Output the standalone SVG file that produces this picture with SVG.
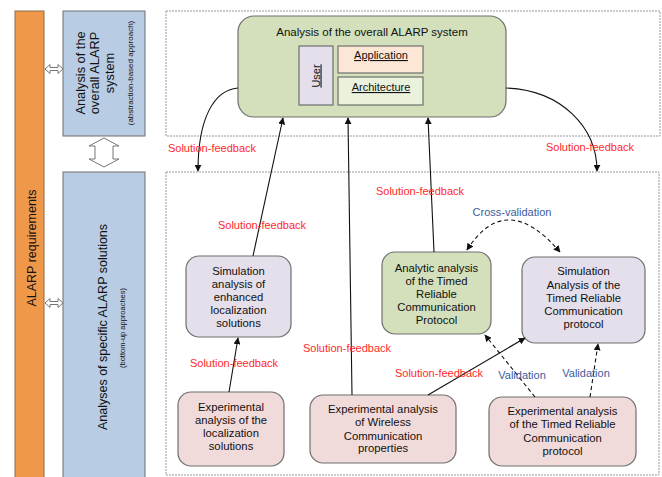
<svg xmlns="http://www.w3.org/2000/svg" width="662" height="477" viewBox="0 0 662 477">
<style>
text{font-family:"Liberation Sans",Arial,sans-serif;fill:#111}
.n{font-size:11.3px;text-anchor:middle}
.red{font-size:11px;fill:#ff2a2a;text-anchor:middle}
.blue{font-size:11px;fill:#3b5c9c;text-anchor:middle}
.frame{fill:#fff;stroke:#9a9a9a;stroke-width:1;stroke-dasharray:2 1}
.box{stroke:#6f6f6f;stroke-width:1.2}
.ln{fill:none;stroke:#111;stroke-width:1.1}
.dash{fill:none;stroke:#111;stroke-width:1.1;stroke-dasharray:4 3}
.hollow{fill:#fff;stroke:#777;stroke-width:1}
</style>
<defs>
<marker id="ah" viewBox="0 0 10 10" refX="9" refY="5" markerWidth="7" markerHeight="7" markerUnits="userSpaceOnUse" orient="auto-start-reverse">
<path d="M0,0 L10,5 L0,10 z" fill="#111"/>
</marker>
</defs>
<rect width="662" height="477" fill="#fff"/>
<g id="frames">
<rect class="frame" x="166" y="11" width="494" height="125"/>
<rect class="frame" x="166" y="172" width="493" height="303"/>
</g>
<g id="alarp-requirements">
<rect x="15" y="11" width="29" height="470" fill="#f0984a" stroke="#8a6a4a" stroke-width="1"/>
<text transform="translate(35.5,248) rotate(-90)" font-size="12.5" text-anchor="middle">ALARP requirements</text>
</g>
<g id="overall-approach">
<rect x="63" y="11" width="82" height="125" fill="#b8cce4" stroke="#6f6f6f" stroke-width="1"/>
<text transform="translate(84.5,73) rotate(-90)" font-size="12.8" text-anchor="middle">Analysis of the</text>
<text transform="translate(99,73) rotate(-90)" font-size="12.8" text-anchor="middle">overall ALARP</text>
<text transform="translate(113.5,73) rotate(-90)" font-size="12.8" text-anchor="middle">system</text>
<text transform="translate(133,73) rotate(-90)" font-size="8" text-anchor="middle">(abstraction-based approach)</text>
</g>
<g id="specific-approach">
<rect x="63" y="172" width="82" height="310" fill="#b8cce4" stroke="#6f6f6f" stroke-width="1"/>
<text transform="translate(106.5,327) rotate(-90)" font-size="12.5" text-anchor="middle">Analyses of specific  ALARP  solutions</text>
<text transform="translate(125,328) rotate(-90)" font-size="7.5" text-anchor="middle">(bottom-up approaches)</text>
</g>
<g id="side-arrows">
<path class="hollow" d="M45,69 L50,64.5 L50,67.5 L58,67.5 L58,64.5 L63,69 L58,73.5 L58,70.5 L50,70.5 L50,73.5 Z"/>
<path class="hollow" d="M45,303 L50,298.5 L50,301.5 L58,301.5 L58,298.5 L63,303 L58,307.5 L58,304.5 L50,304.5 L50,307.5 Z"/>
<path class="hollow" d="M104,138 L119,146 L113,146 L113,159 L119,159 L104,167 L89,159 L95,159 L95,146 L89,146 Z"/>
</g>
<g id="overall-system">
<rect class="box" x="238" y="16" width="268" height="101" rx="16" fill="#d3e0bb"/>
<text x="372" y="36" font-size="11.5" text-anchor="middle">Analysis of the overall ALARP  system</text>
<rect class="box" x="299" y="46" width="34" height="59" fill="#e4dfeb"/>
<text transform="translate(319.5,76) rotate(-90)" font-size="11" text-anchor="middle" text-decoration="underline">User</text>
<rect class="box" x="338" y="46" width="85" height="27" fill="#fce6d6"/>
<text x="381" y="59" font-size="11" text-anchor="middle" text-decoration="underline">Application</text>
<rect class="box" x="338" y="77" width="85" height="28" fill="#eaf1dc"/>
<text x="381" y="91" font-size="11" text-anchor="middle" text-decoration="underline">Architecture</text>
</g>
<g id="sim-localization">
<rect class="box" x="186" y="256" width="105" height="81" rx="13" fill="#e4dfeb"/>
<text class="n" x="238.5" y="275">Simulation</text>
<text class="n" x="238.5" y="288">analysis of</text>
<text class="n" x="238.5" y="301">enhanced</text>
<text class="n" x="238.5" y="314">localization</text>
<text class="n" x="238.5" y="327">solutions</text>
</g>
<g id="analytic-trcp">
<rect class="box" x="382" y="252" width="109" height="82" rx="13" fill="#d3e0bb"/>
<text class="n" x="436.5" y="272">Analytic analysis</text>
<text class="n" x="436.5" y="285">of the Timed</text>
<text class="n" x="436.5" y="298">Reliable</text>
<text class="n" x="436.5" y="311">Communication</text>
<text class="n" x="436.5" y="324">Protocol</text>
</g>
<g id="sim-trcp">
<rect class="box" x="522" y="257" width="123" height="86" rx="13" fill="#e4dfeb"/>
<text class="n" x="583.5" y="275">Simulation</text>
<text class="n" x="583.5" y="288.5">Analysis of the</text>
<text class="n" x="583.5" y="302">Timed Reliable</text>
<text class="n" x="583.5" y="315">Communication</text>
<text class="n" x="583.5" y="328">protocol</text>
</g>
<g id="exp-localization">
<rect class="box" x="178" y="392" width="106" height="74" rx="13" fill="#f1dbda"/>
<text class="n" x="231" y="411">Experimental</text>
<text class="n" x="231" y="424">analysis of the</text>
<text class="n" x="231" y="437">localization</text>
<text class="n" x="231" y="450">solutions</text>
</g>
<g id="exp-wireless">
<rect class="box" x="310" y="395" width="146" height="68" rx="13" fill="#f1dbda"/>
<text class="n" x="383" y="413">Experimental analysis</text>
<text class="n" x="383" y="426">of Wireless</text>
<text class="n" x="383" y="439.5">Communication</text>
<text class="n" x="383" y="452">properties</text>
</g>
<g id="exp-trcp">
<rect class="box" x="489" y="397" width="147" height="69" rx="13" fill="#f1dbda"/>
<text class="n" x="562.5" y="415">Experimental analysis</text>
<text class="n" x="562.5" y="428">of the Timed Reliable</text>
<text class="n" x="562.5" y="442">Communication</text>
<text class="n" x="562.5" y="455">protocol</text>
</g>
<g id="connectors">
<path class="ln" d="M238,88 C214,90 198,118 198,171" marker-end="url(#ah)"/>
<path class="ln" d="M506,88 C562,90 597,128 597,171" marker-end="url(#ah)"/>
<path class="ln" d="M253,256 L283,118" marker-end="url(#ah)"/>
<path class="ln" d="M352,395 L348,118" marker-end="url(#ah)"/>
<path class="ln" d="M434,252 L428,118" marker-end="url(#ah)"/>
<path class="ln" d="M229,392 L238,338" marker-end="url(#ah)"/>
<path class="ln" d="M428,395 L525,338" marker-end="url(#ah)"/>
<path class="dash" d="M535,397 L485,335" marker-end="url(#ah)"/>
<path class="dash" d="M590,397 L598,344" marker-end="url(#ah)"/>
<path class="dash" d="M467,250 Q506,189 560,252" marker-start="url(#ah)" marker-end="url(#ah)"/>
</g>
<g id="labels">
<text class="red" x="212" y="152">Solution-feedback</text>
<text class="red" x="590" y="151">Solution-feedback</text>
<text class="red" x="262" y="229">Solution-feedback</text>
<text class="red" x="420" y="195">Solution-feedback</text>
<text class="red" x="347" y="352">Solution-feedback</text>
<text class="red" x="234" y="367">Solution-feedback</text>
<text class="red" x="439" y="377">Solution-feedback</text>
<text class="blue" x="512" y="216">Cross-validation</text>
<text class="blue" x="522" y="379">Validation</text>
<text class="blue" x="586" y="377">Validation</text>
</g>
</svg>
